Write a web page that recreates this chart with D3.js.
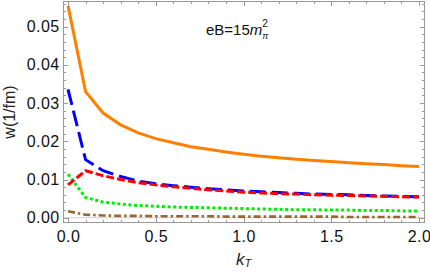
<!DOCTYPE html>
<html><head><meta charset="utf-8">
<script src="https://cdn.jsdelivr.net/npm/d3@7"></script>
<style>body{margin:0;background:#fff}svg{display:block}text{font-family:"Liberation Sans",Arial,sans-serif}</style>
</head><body>
<svg id="c" width="430" height="272"></svg>
<script>
const kT = [0.0,0.1,0.2,0.3,0.4,0.5,0.6,0.7,0.8,0.9,1.0,1.1,1.2,1.3,1.4,1.5,1.6,1.7,1.8,1.9,2.0];
const orange = [0.0555,0.0330,0.0274,0.0243,0.0222,0.0207,0.0196,0.0186,0.0179,0.0172,0.0166,0.0161,0.0157,0.0153,0.0150,0.0147,0.0144,0.0141,0.0139,0.0136,0.0134];
const blue   = [0.0336,0.0152,0.0123,0.0108,0.0096,0.0089,0.0084,0.0080,0.0076,0.0073,0.0070,0.0068,0.0066,0.0064,0.0062,0.0061,0.0060,0.0058,0.0057,0.0056,0.0055];
const red    = [0.0086,0.0123,0.0110,0.0100,0.0092,0.0086,0.0081,0.0077,0.0073,0.0070,0.0067,0.0065,0.0063,0.0062,0.0060,0.0059,0.0058,0.0057,0.0056,0.0055,0.0054];
const green  = [0.0114,0.0053,0.0041,0.0036,0.0032,0.0030,0.0028,0.0027,0.0026,0.0025,0.0024,0.0023,0.0022,0.0021,0.0021,0.0020,0.0020,0.0019,0.0019,0.0018,0.0018];
const brown  = [0.0017,0.0008,0.0006,0.0005,0.0005,0.0004,0.0004,0.0004,0.0004,0.0003,0.0003,0.0003,0.0003,0.0003,0.0003,0.0003,0.0002,0.0002,0.0002,0.0002,0.0002];
const xTicks = [0,0.5,1.0,1.5,2.0];
const yTicks = [0,0.01,0.02,0.03,0.04,0.05];

const L=63,R=425,T=1,B=223;
const svg=d3.select("#c");
const x=d3.scaleLinear().domain([-0.0285,2.034]).range([L,R]);
const y=d3.scaleLinear().domain([-0.00137,0.0567]).range([B,T]);

// zero axis line
svg.append("line").attr("x1",L).attr("x2",R).attr("y1",y(0)).attr("y2",y(0)).attr("stroke","#d0d0d0").attr("stroke-width",1);

const series=[
 {v:brown,c:"#996633",d:"7,3,2.5,3",w:2.6},
 {v:green,c:"#00ee00",d:"3,2.6",w:3},
 {v:blue,c:"#0000ff",d:"16,6",w:3},
 {v:red,c:"#ff0000",d:"8,3",w:3},
 {v:orange,c:"#ff8000",d:null,w:3}
];
const line=d3.line().x((d,i)=>x(kT[i])).y(d=>y(d));
const plot=svg.append("g");
series.forEach(s=>{
  const p=plot.append("path").datum(s.v).attr("d",line).attr("fill","none")
    .attr("stroke",s.c).attr("stroke-width",s.w);
  if(s.d) p.attr("stroke-dasharray",s.d);
});

// frame
const fc="#999";
svg.append("rect").attr("x",L+0.5).attr("y",T+0.5).attr("width",R-L-1).attr("height",B-T-1).attr("fill","none").attr("stroke",fc).attr("stroke-width",1);

const xMinor=d3.range(0,2.01,0.1).filter(v=>Math.abs(v*2-Math.round(v*2))>1e-6);
const yMinor=d3.range(0,0.0561,0.002).filter(v=>Math.abs(v*100-Math.round(v*100))>1e-6);
const tg=svg.append("g").attr("stroke",fc).attr("stroke-width",1);
function tx(v,len){const px=Math.round(x(v))+0.5;
  tg.append("line").attr("x1",px).attr("x2",px).attr("y1",B).attr("y2",B-len);
  tg.append("line").attr("x1",px).attr("x2",px).attr("y1",T).attr("y2",T+len);}
function ty(v,len){const py=Math.round(y(v))+0.5;
  tg.append("line").attr("y1",py).attr("y2",py).attr("x1",L).attr("x2",L+len);
  tg.append("line").attr("y1",py).attr("y2",py).attr("x1",R).attr("x2",R-len);}
xTicks.forEach(v=>tx(v,5)); xMinor.forEach(v=>tx(v,3));
yTicks.forEach(v=>ty(v,5)); yMinor.forEach(v=>ty(v,3));

const fs=16;
svg.append("g").selectAll("text").data(xTicks).join("text")
  .attr("x",d=>x(d)+0.5).attr("y",242).attr("text-anchor","middle").attr("font-size",fs).attr("fill","#111")
  .attr("letter-spacing",0.4)
  .text(d=>d3.format(".1f")(d));
svg.append("g").selectAll("text").data(yTicks).join("text")
  .attr("x",L-3.5).attr("y",d=>y(d)+5.5).attr("text-anchor","end").attr("font-size",fs).attr("fill","#111")
  .attr("letter-spacing",0.4)
  .text(d=>d3.format(".2f")(d));

// axis labels
svg.append("text").attr("transform","translate(15,112) rotate(-90)").attr("text-anchor","middle")
  .attr("font-size",16).attr("fill","#222").text("w(1/fm)");
const xl=svg.append("text").attr("x",236).attr("y",265).attr("font-size",17).attr("fill","#222");
xl.append("tspan").attr("font-style","italic").text("k");
xl.append("tspan").attr("font-style","italic").attr("font-size",11).attr("dy",2).text("T");

// annotation
const an=svg.append("text").attr("x",206).attr("y",35).attr("font-size",15).attr("fill","#111");
an.append("tspan").text("eB=15");
an.append("tspan").attr("font-style","italic").text("m");
an.append("tspan").attr("font-style","italic").attr("font-size",9).attr("dy",4).text("π");
an.append("tspan").attr("font-size",10).attr("dx",-6).attr("dy",-12).text("2");
</script>
</body></html>
